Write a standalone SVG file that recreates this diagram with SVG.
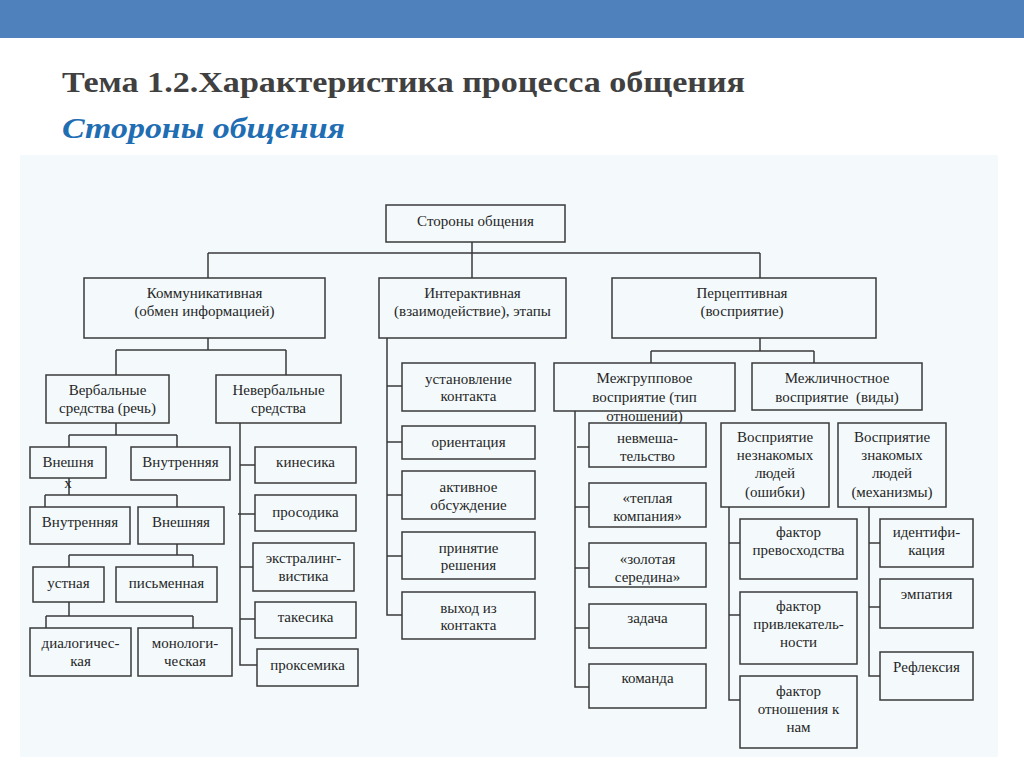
<svg xmlns="http://www.w3.org/2000/svg" width="1024" height="767" viewBox="0 0 1024 767">
<style>
.box{fill:none;stroke:#3a3a3a;stroke-width:1.5}
.c{fill:none;stroke:#3a3a3a;stroke-width:1.5}
.t{font-family:"Liberation Serif","Times New Roman",serif;font-size:15px;fill:#262626;text-anchor:middle}
</style>
<rect x="0" y="0" width="1024" height="767" fill="#ffffff"/>
<rect x="0" y="0" width="1024" height="38" fill="#4f81bd"/>
<rect x="20" y="155" width="978" height="602" fill="#f4fafc"/>
<text x="62" y="92" font-family="'Liberation Serif','Times New Roman',serif" font-weight="bold" font-size="30" fill="#404040" textLength="683" lengthAdjust="spacingAndGlyphs">Тема 1.2.Характеристика процесса общения</text>
<text x="62" y="138" font-family="'Liberation Serif','Times New Roman',serif" font-weight="bold" font-style="italic" font-size="29" fill="#1f6db2" textLength="283" lengthAdjust="spacingAndGlyphs">Стороны общения</text>

<g id="connectors">
<path class="c" d="M472,242V253M208,253H760M208,253V278M472,253V278M760,253V278"/>
<path class="c" d="M208,338V350M116,350H286M116,350V375M286,350V375"/>
<path class="c" d="M116,423V435M69,435H177M69,435V447M177,435V447"/>
<path class="c" d="M69,478V495M45,495H177M45,495V507M177,495V507"/>
<path class="c" d="M177,544V555M69,555H193M69,555V567M193,555V567"/>
<path class="c" d="M69,602V616M46,616H193M46,616V628M193,616V628"/>
<path class="c" d="M240,423V665H257M240,465H255M238,514H255M240,567H253M240,619H255"/>
<path class="c" d="M387,338V615H402M387,386H402M387,442H402M387,495H402M387,556H402"/>
<path class="c" d="M760,338V351M651,351H814M651,351V363M814,351V363"/>
<path class="c" d="M575,411V687H589M577,447H589M575,507H589M575,568H589M575,628H589"/>
<path class="c" d="M729,507V700H740M729,543H740M729,615H740"/>
<path class="c" d="M869,507V676H880M869,543H880M869,607H880"/>
</g>

<g id="root"><rect class="box" x="386" y="205" width="179" height="37"/><text class="t" x="475.5" y="226">Стороны общения</text></g>

<g id="komm"><rect class="box" x="84" y="278" width="241" height="60"/><text class="t" x="204.5" y="298">Коммуникативная</text><text class="t" x="204.5" y="316">(обмен информацией)</text></g>
<g id="inter"><rect class="box" x="379" y="278" width="187" height="60"/><text class="t" x="472.5" y="298">Интерактивная</text><text class="t" x="472.5" y="316">(взаимодействие), этапы</text></g>
<g id="perc"><rect class="box" x="612" y="278" width="264" height="60"/><text class="t" x="742" y="298">Перцептивная</text><text class="t" x="742" y="316">(восприятие)</text></g>

<g id="verb"><rect class="box" x="46" y="375" width="123" height="48"/><text class="t" x="107.5" y="395">Вербальные</text><text class="t" x="107.5" y="413">средства (речь)</text></g>
<g id="neverb"><rect class="box" x="216" y="375" width="125" height="48"/><text class="t" x="278.5" y="395">Невербальные</text><text class="t" x="278.5" y="413">средства</text></g>

<g id="vneshn1"><rect class="box" x="30" y="447" width="76" height="31"/><text class="t" x="68" y="467">Внешня</text></g>
<g id="mark"><text class="t" x="68" y="488" font-size="13">х</text></g>
<g id="vnutr1"><rect class="box" x="131" y="447" width="99" height="33"/><text class="t" x="180.5" y="467">Внутренняя</text></g>
<g id="vnutr2"><rect class="box" x="30" y="507" width="100" height="37"/><text class="t" x="80" y="527">Внутренняя</text></g>
<g id="vneshn2"><rect class="box" x="138" y="507" width="86" height="37"/><text class="t" x="181" y="527">Внешняя</text></g>
<g id="ustn"><rect class="box" x="33" y="567" width="71" height="35"/><text class="t" x="68.5" y="588">устная</text></g>
<g id="pism"><rect class="box" x="116" y="567" width="101" height="35"/><text class="t" x="166.5" y="588">письменная</text></g>
<g id="dial"><rect class="box" x="30" y="628" width="101" height="48"/><text class="t" x="80.5" y="648">диалогичес-</text><text class="t" x="80.5" y="666">кая</text></g>
<g id="monol"><rect class="box" x="138" y="628" width="94" height="48"/><text class="t" x="185" y="648">монологи-</text><text class="t" x="185" y="666">ческая</text></g>

<g id="kines"><rect class="box" x="255" y="447" width="101" height="36"/><text class="t" x="305.5" y="467">кинесика</text></g>
<g id="prosod"><rect class="box" x="255" y="495" width="101" height="36"/><text class="t" x="305.5" y="517">просодика</text></g>
<g id="extra"><rect class="box" x="253" y="543" width="101" height="48"/><text class="t" x="303.5" y="563">экстралинг-</text><text class="t" x="303.5" y="581">вистика</text></g>
<g id="takes"><rect class="box" x="255" y="602" width="101" height="36"/><text class="t" x="305.5" y="622">такесика</text></g>
<g id="proks"><rect class="box" x="257" y="649" width="101" height="37"/><text class="t" x="307.5" y="670">проксемика</text></g>

<g id="ust"><rect class="box" x="402" y="363" width="133" height="48"/><text class="t" x="468.5" y="384">установление</text><text class="t" x="468.5" y="401">контакта</text></g>
<g id="orient"><rect class="box" x="402" y="426" width="133" height="33"/><text class="t" x="468.5" y="447">ориентация</text></g>
<g id="aktiv"><rect class="box" x="402" y="471" width="133" height="48"/><text class="t" x="468.5" y="492">активное</text><text class="t" x="468.5" y="510">обсуждение</text></g>
<g id="prin"><rect class="box" x="402" y="532" width="133" height="47"/><text class="t" x="468.5" y="553">принятие</text><text class="t" x="468.5" y="570">решения</text></g>
<g id="vyh"><rect class="box" x="402" y="592" width="133" height="47"/><text class="t" x="468.5" y="613">выход из</text><text class="t" x="468.5" y="630">контакта</text></g>

<g id="mezhgr"><rect class="box" x="554" y="363" width="181" height="48"/><text class="t" x="644.5" y="383">Межгрупповое</text><text class="t" x="644.5" y="402">восприятие (тип</text><text class="t" x="644.5" y="421">отношений)</text></g>
<g id="mezhl"><rect class="box" x="752" y="363" width="170" height="47"/><text class="t" x="837" y="383">Межличностное</text><text class="t" x="837" y="402" xml:space="preserve">восприятие  (виды)</text></g>

<g id="nevm"><rect class="box" x="589" y="423" width="117" height="44"/><text class="t" x="647.5" y="443">невмеша-</text><text class="t" x="647.5" y="461">тельство</text></g>
<g id="tepl"><rect class="box" x="589" y="483" width="117" height="44"/><text class="t" x="647.5" y="503">«теплая</text><text class="t" x="647.5" y="521">компания»</text></g>
<g id="zolot"><rect class="box" x="589" y="543" width="117" height="44"/><text class="t" x="647.5" y="564">«золотая</text><text class="t" x="647.5" y="582">середина»</text></g>
<g id="zadacha"><rect class="box" x="589" y="604" width="117" height="44"/><text class="t" x="647.5" y="623">задача</text></g>
<g id="komanda"><rect class="box" x="589" y="664" width="117" height="44"/><text class="t" x="647.5" y="683">команда</text></g>

<g id="neznak"><rect class="box" x="721" y="423" width="108" height="84"/><text class="t" x="775" y="442">Восприятие</text><text class="t" x="775" y="460">незнакомых</text><text class="t" x="775" y="478">людей</text><text class="t" x="775" y="497">(ошибки)</text></g>
<g id="znak"><rect class="box" x="838" y="423" width="108" height="84"/><text class="t" x="892" y="442">Восприятие</text><text class="t" x="892" y="460">знакомых</text><text class="t" x="892" y="478">людей</text><text class="t" x="892" y="497">(механизмы)</text></g>

<g id="f1"><rect class="box" x="740" y="519" width="117" height="60"/><text class="t" x="798.5" y="537">фактор</text><text class="t" x="798.5" y="555">превосходства</text></g>
<g id="f2"><rect class="box" x="740" y="592" width="117" height="72"/><text class="t" x="798.5" y="611">фактор</text><text class="t" x="798.5" y="629">привлекатель-</text><text class="t" x="798.5" y="647">ности</text></g>
<g id="f3"><rect class="box" x="740" y="676" width="117" height="72"/><text class="t" x="798.5" y="696">фактор</text><text class="t" x="798.5" y="714">отношения к</text><text class="t" x="798.5" y="732">нам</text></g>

<g id="ident"><rect class="box" x="880" y="519" width="93" height="48"/><text class="t" x="926.5" y="537">идентифи-</text><text class="t" x="926.5" y="555">кация</text></g>
<g id="empat"><rect class="box" x="880" y="579" width="93" height="49"/><text class="t" x="926.5" y="599">эмпатия</text></g>
<g id="refl"><rect class="box" x="880" y="652" width="93" height="48"/><text class="t" x="926.5" y="672">Рефлексия</text></g>
</svg>
